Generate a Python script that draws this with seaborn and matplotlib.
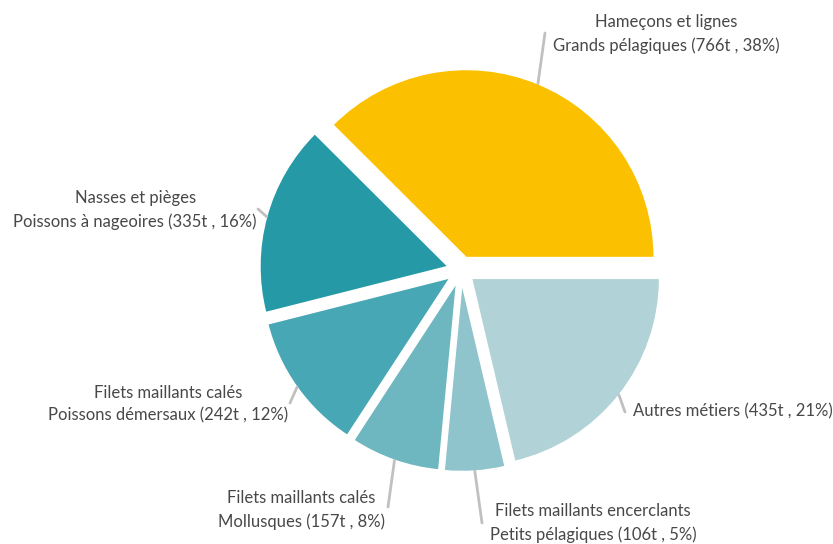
import numpy as np
import matplotlib
matplotlib.use("Agg")
import matplotlib.pyplot as plt
import seaborn as sns

# data
metiers = ["Hameçons et lignes", "Nasses et pièges", "Filets maillants calés",
           "Filets maillants calés", "Filets maillants encerclants", "Autres métiers"]
especes = ["Grands pélagiques", "Poissons à nageoires", "Poissons démersaux",
           "Mollusques", "Petits pélagiques", ""]
tonnes = [766, 335, 242, 157, 106, 435]
pourcents = [38, 16, 12, 8, 5, 21]

colors = ["#FBC100", "#259AA6", "#48A7B4", "#6FB7C0", "#8FC4CC", "#B1D3D8"]

sns.set_theme(style="white")
plt.rcParams["font.family"] = ["Lato", "DejaVu Sans"]

W, H = 833, 544
fig = plt.figure(figsize=(W / 100, H / 100), dpi=100)
ax = fig.add_axes([0, 0, 1, 1])

cx, cy, R, off = 461, 270, 188, 13.5

# y axis points down (pixel-like), so clockwise in data = counter-clockwise on screen
ax.pie(tonnes, colors=colors, center=(cx, cy), radius=R, startangle=0,
       counterclock=False, explode=[off] * len(tonnes),
       wedgeprops=dict(edgecolor="white", linewidth=1))
ax.set_xlim(0, W)
ax.set_ylim(H, 0)
ax.set_aspect("equal")
ax.axis("off")

# label layout: connector end point, text anchor, alignment
label_layout = [
    ((545, 33), (553, 34), "left"),
    ((258, 209), (257, 210), "right"),
    ((290, 403), (288, 404), "right"),
    ((388, 507), (385, 510), "right"),
    ((482, 523), (490, 523), "left"),
    ((625, 412), (633, 411), "left"),
]

fracs = np.array(tonnes) / sum(tonnes)
start = 0.0
for i, frac in enumerate(fracs):
    mid = -(start + frac / 2) * 2 * np.pi
    start += frac
    ox = cx + off * np.cos(mid)
    oy = cy + off * np.sin(mid)
    px = ox + R * np.cos(mid)
    py = oy + R * np.sin(mid)
    (ex, ey), (tx, ty), ha = label_layout[i]
    ax.plot([px, ex], [py, ey], color="#c0c0c0", lw=2, solid_capstyle="round")
    info = f"({tonnes[i]}t , {pourcents[i]}%)"
    if especes[i]:
        txt = f"{metiers[i]}\n{especes[i]} {info}"
    else:
        txt = f"{metiers[i]} {info}"
    ax.text(tx, ty, txt, ha=ha, va="center", multialignment="center",
            fontsize=12.0, fontweight="normal", color="#484848", linespacing=1.5)

fig.savefig("out.png", dpi=100)
